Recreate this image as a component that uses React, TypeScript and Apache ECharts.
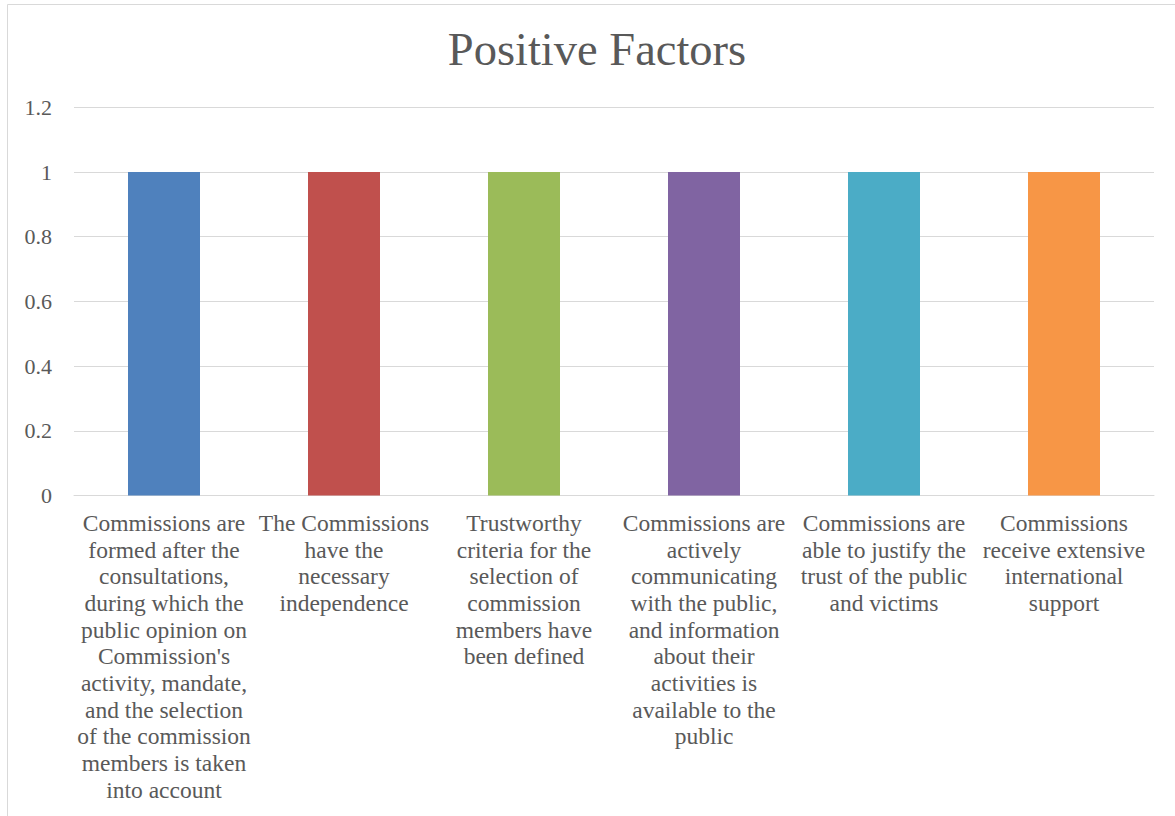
import React, { useEffect, useRef } from "react";
import * as echarts from "echarts";

const titleText = "Positive Factors";
const categories = [
  "Commissions are\nformed after the\nconsultations,\nduring which the\npublic opinion on\nCommission's\nactivity, mandate,\nand the selection\nof the commission\nmembers is taken\ninto account",
  "The Commissions\nhave the\nnecessary\nindependence",
  "Trustworthy\ncriteria for the\nselection of\ncommission\nmembers have\nbeen defined",
  "Commissions are\nactively\ncommunicating\nwith the public,\nand information\nabout their\nactivities is\navailable to the\npublic",
  "Commissions are\nable to justify the\ntrust of the public\nand victims",
  "Commissions\nreceive extensive\ninternational\nsupport",
];
const values = [1, 1, 1, 1, 1, 1];
const barColors = ["#4f81bd", "#c0504d", "#9bbb59", "#8064a2", "#4bacc6", "#f79646"];
const yMin = 0;
const yMax = 1.2;
const yInterval = 0.2;

const FONT = "'Liberation Serif', 'DejaVu Serif', serif";
const TEXT = "#595959";
const GRID = "#d9d9d9";

export default function App() {
  const ref = useRef<HTMLDivElement>(null);
  useEffect(() => {
    document.body.style.margin = "0";
    const chart = echarts.init(ref.current!, null, { renderer: "svg" });
    chart.setOption({
      animation: false,
      backgroundColor: "#ffffff",
      title: {
        text: titleText,
        left: 592,
        textAlign: "center",
        top: 21,
        textStyle: {
          fontFamily: FONT,
          fontSize: 46.5,
          fontWeight: "normal",
          color: TEXT,
          lineHeight: 47,
        },
      },
      graphic: [
        {
          type: "rect",
          shape: { x: 7.5, y: 4.5, width: 1200, height: 900 },
          style: { fill: "none", stroke: GRID, lineWidth: 1 },
          silent: true,
          z: -10,
        },
      ],
      grid: { left: 74, right: 21, top: 107.3, bottom: 320.5, containLabel: false },
      xAxis: {
        type: "category",
        data: categories,
        axisLine: { show: true, lineStyle: { color: GRID, width: 1 } },
        axisTick: { show: false },
        axisLabel: {
          interval: 0,
          fontFamily: FONT,
          fontSize: 23.5,
          lineHeight: 26.7,
          color: TEXT,
          margin: 14,
          align: "center",
        },
      },
      yAxis: {
        type: "value",
        min: yMin,
        max: yMax,
        interval: yInterval,
        axisLine: { show: false },
        axisTick: { show: false },
        splitLine: { lineStyle: { color: GRID, width: 1 } },
        axisLabel: {
          fontFamily: FONT,
          fontSize: 22,
          color: TEXT,
          margin: 22,
        },
      },
      series: [
        {
          type: "bar",
          data: values.map((v, i) => ({ value: v, itemStyle: { color: barColors[i] } })),
          barWidth: "40%",
        },
      ],
    });
    return () => chart.dispose();
  }, []);
  return <div ref={ref} style={{ width: 1175, height: 816 }} />;
}
